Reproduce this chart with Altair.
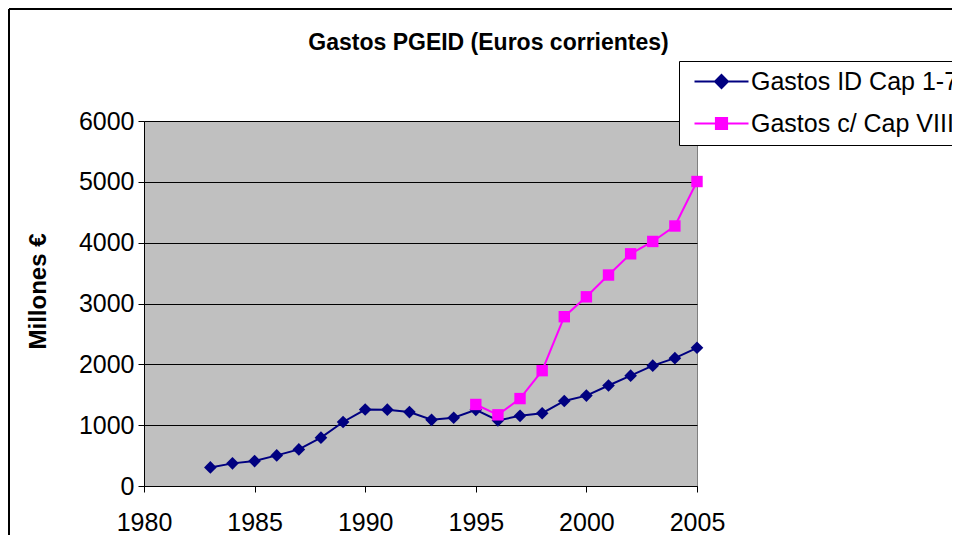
import altair as alt
import pandas as pd

# ---- data ----
years_id = list(range(1983, 2006))
gastos_id = [305, 372, 410, 503, 601, 795, 1052, 1257, 1255, 1215, 1088, 1122,
             1252, 1078, 1153, 1196, 1398, 1486, 1652, 1814, 1978, 2102, 2272]
years_viii = list(range(1995, 2006))
gastos_viii = [1340, 1170, 1437, 1896, 2783, 3110, 3468, 3817, 4020, 4274, 5005]

series_names = ["Gastos ID Cap 1-7", "Gastos c/ Cap VIII"]
series_colors = ["#000080", "#FF00FF"]
x_ticks = [1980, 1985, 1990, 1995, 2000, 2005]
y_ticks = [0, 1000, 2000, 3000, 4000, 5000, 6000]
title_text = "Gastos PGEID (Euros corrientes)"

df = pd.concat([
    pd.DataFrame({"year": years_id, "value": gastos_id, "series": series_names[0]}),
    pd.DataFrame({"year": years_viii, "value": gastos_viii, "series": series_names[1]}),
], ignore_index=True)

FONT = "Liberation Sans"

# legend symbols: line + marker
legend_paths = [
    "M-3,0H3M0,-0.72L0.72,0L0,0.72L-0.72,0Z",
    "M-3,0H3M-0.62,-0.62H0.62V0.62H-0.62Z",
]

x_enc = alt.X("year:Q", scale=alt.Scale(domain=[1980, 2005], nice=False, zero=False),
              axis=alt.Axis(values=x_ticks, format="d", grid=False, tickSize=6,
                            tickColor="black", domainColor="black", labelColor="black",
                            labelFont=FONT, labelFontSize=25, labelPadding=18,
                            labelFlush=False, labelOverlap=False, title=None))
y_enc = alt.Y("value:Q", scale=alt.Scale(domain=[0, 6000], nice=False),
              axis=alt.Axis(values=y_ticks, format="d", grid=True, gridColor="black", gridWidth=1,
                            tickSize=6, tickColor="black", domainColor="black",
                            labelColor="black", labelFont=FONT, labelFontSize=25,
                            labelPadding=4, title="Millones €", titleFont=FONT,
                            titleFontSize=24, titleFontWeight="bold", titleColor="black",
                            titleAngle=270, titleAlign="center", titleBaseline="alphabetic",
                            titleX=-99, titleY=170))

leg = alt.Legend(title=None, orient="none", legendX=535, legendY=-60,
                 fillColor="white", strokeColor="black", padding=8,
                 symbolSize=324, symbolStrokeWidth=2, symbolOffset=22,
                 labelOffset=17, labelFont=FONT, labelFontSize=25, labelColor="black",
                 labelLimit=600, rowPadding=16)

stroke_scale = alt.Scale(domain=series_names, range=series_colors)

lines = alt.Chart(df).mark_line(strokeWidth=2).encode(
    x=x_enc, y=y_enc,
    stroke=alt.Stroke("series:N", scale=stroke_scale, legend=leg),
    detail="series:N",
)

pts_id = alt.Chart(df).transform_filter(
    alt.datum.series == series_names[0]
).mark_point(shape="diamond", filled=True, size=160, opacity=1, color=series_colors[0]).encode(
    x="year:Q", y="value:Q")

pts_viii = alt.Chart(df).transform_filter(
    alt.datum.series == series_names[1]
).mark_point(shape="square", filled=True, size=130, opacity=1, color=series_colors[1]).encode(
    x="year:Q", y="value:Q")

# layer that only feeds the legend (its marks are clipped away far below the plot)
legend_layer = alt.Chart(df).transform_calculate(hidden="-1000000").mark_point(
    filled=True, strokeWidth=2, opacity=1, clip=True).encode(
    x="year:Q", y="hidden:Q",
    fill=alt.Fill("series:N", scale=alt.Scale(domain=series_names, range=series_colors), legend=leg),
    stroke=alt.Stroke("series:N", scale=stroke_scale, legend=leg),
    shape=alt.Shape("series:N", scale=alt.Scale(domain=series_names, range=legend_paths), legend=leg),
)

one = pd.DataFrame({"t": [title_text]})
title_mark = alt.Chart(one).mark_text(font=FONT, fontSize=23, fontWeight="bold", color="black",
                                      align="center", baseline="alphabetic").encode(
    text="t:N", x=alt.value(344.5), y=alt.value(-71))
frame_top = alt.Chart(one).mark_rule(color="black", strokeWidth=2).encode(
    x=alt.value(-135), x2=alt.value(830), y=alt.value(-112))
frame_left = alt.Chart(one).mark_rule(color="black", strokeWidth=2).encode(
    x=alt.value(-135), y=alt.value(-112), y2=alt.value(420))

chart = alt.layer(lines, pts_id, pts_viii, legend_layer, title_mark, frame_top, frame_left).properties(
    width=553, height=365,
    padding={"left": 136, "top": 113, "right": 255, "bottom": 49},
    autosize=alt.AutoSizeParams(type="none"),
    background="white",
).configure_view(fill="#C0C0C0", stroke="#808080", strokeWidth=1)

chart.save("out.html", embed_options={"renderer": "svg", "actions": False})
